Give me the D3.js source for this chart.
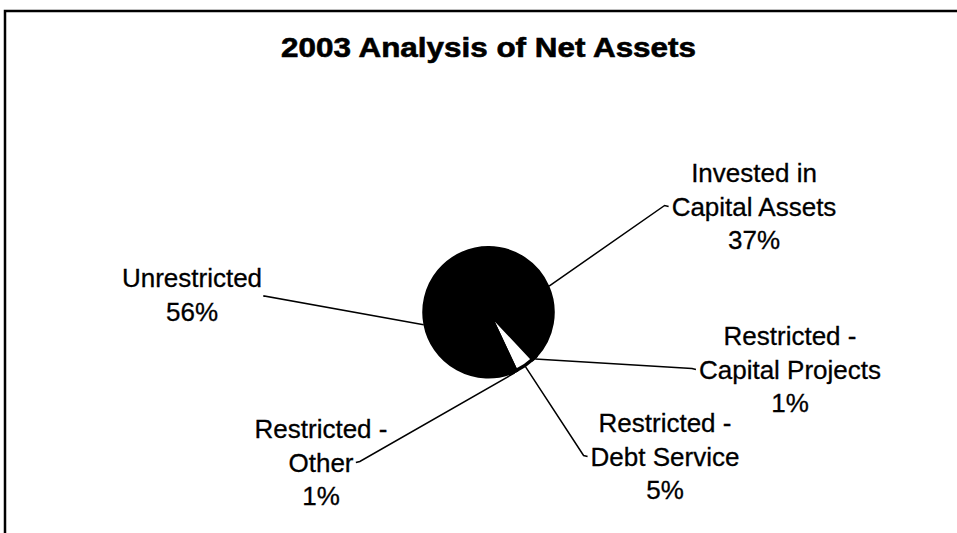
<!DOCTYPE html>
<html>
<head>
<meta charset="utf-8">
<script src="https://cdn.jsdelivr.net/npm/d3@7"></script>
<style>
  body { margin: 0; background: #fff; }
  svg { display: block; }
  text { font-family: "Liberation Sans", Arial, sans-serif; fill: #000; }
</style>
</head>
<body>
<div id="chart"></div>
<script>
// chart data
const categories = ["Invested in Capital Assets", "Restricted - Capital Projects", "Restricted - Debt Service", "Restricted - Other", "Unrestricted"];
const percents = [37, 1, 5, 1, 56];
const labelText = [["Invested in", "Capital Assets"], ["Restricted -", "Capital Projects"], ["Restricted -", "Debt Service"], ["Restricted -", "Other"], ["Unrestricted"]];
const titleText = "2003 Analysis of Net Assets";

// styling / layout (kept apart from the data)
const sliceFill = ["#000", "#000", "#fff", "#000", "#000"];
const labelPos = [
  {x: 754, y: 182, side: "right"},
  {x: 790, y: 345, side: "right"},
  {x: 665, y: 432, side: "right"},
  {x: 321, y: 438, side: "left"},
  {x: 192, y: 287, side: "left"}
];

var width = 957, height = 533;
var cx = 488.5, cy = 312.3, r = 64.5;
var lineH = 33.5;

const svg = d3.select("#chart")
              .append("svg")
              .attr("width", width)
              .attr("height", height);

// frame (only top and left edges fall inside the picture)
svg.append("rect")
   .attr("x", 5).attr("y", 11)
   .attr("width", 1200).attr("height", 1200)
   .attr("fill", "none")
   .attr("stroke", "#000")
   .attr("stroke-width", 2.5);

svg.append("text")
   .attr("x", 488.5)
   .attr("y", 56.5)
   .attr("text-anchor", "middle")
   .attr("font-size", "27px")
   .attr("font-weight", "bold")
   .attr("textLength", 415)
   .attr("lengthAdjust", "spacingAndGlyphs")
   .attr("stroke", "#000")
   .attr("stroke-width", 0.6)
   .text(titleText);

var pie = d3.pie().sort(null).value(d => d);
var arcs = pie(percents);
var arc = d3.arc().innerRadius(0).outerRadius(r);
var edge = d3.arc().innerRadius(r + 1.5).outerRadius(r + 1.5);

var g = svg.append("g").attr("transform", "translate(" + cx + "," + cy + ")");

g.selectAll(".slice")
  .data(arcs)
  .enter()
  .append("path")
  .attr("class", "slice")
  .attr("d", arc)
  .attr("fill", (d, i) => sliceFill[i])
  .attr("stroke", "#000")
  .attr("stroke-width", 3.5);

// labels
var labels = svg.selectAll(".label")
  .data(arcs)
  .enter()
  .append("text")
  .attr("class", "label")
  .attr("font-size", "26px")
  .attr("stroke", "#000")
  .attr("stroke-width", 0.3)
  .attr("text-anchor", "middle");

labels.each(function(d, i) {
  var lines = labelText[i].concat([percents[i] + "%"]);
  var t = d3.select(this);
  lines.forEach((ln, k) => {
    t.append("tspan")
     .attr("x", labelPos[i].x)
     .attr("y", labelPos[i].y + k * lineH)
     .text(ln);
  });
});

// leader lines
labels.each(function(d, i) {
  var tspans = d3.select(this).selectAll("tspan").nodes();
  var attachIdx = labelText[i].length > 1 ? 1 : 0;
  var box = tspans[attachIdx].getBBox();
  var ax, ay, tx;
  if (labelPos[i].side === "right") {
    ax = box.x - 3;
    tx = ax - 4;
  } else {
    ax = box.x + box.width + 2;
    tx = ax + 4;
  }
  ay = labelPos[i].y + attachIdx * lineH - 9;
  if (labelText[i].length === 1) { ay = labelPos[i].y + 10; tx = ax; }
  var p = edge.centroid(d);
  var pts = [[ax, ay], [tx, ay - 1], [cx + p[0], cy + p[1]]];
  svg.append("path")
     .attr("class", "leader")
     .attr("d", d3.line()(pts))
     .attr("fill", "none")
     .attr("stroke", "#000")
     .attr("stroke-width", 1.5);
});
</script>
</body>
</html>
